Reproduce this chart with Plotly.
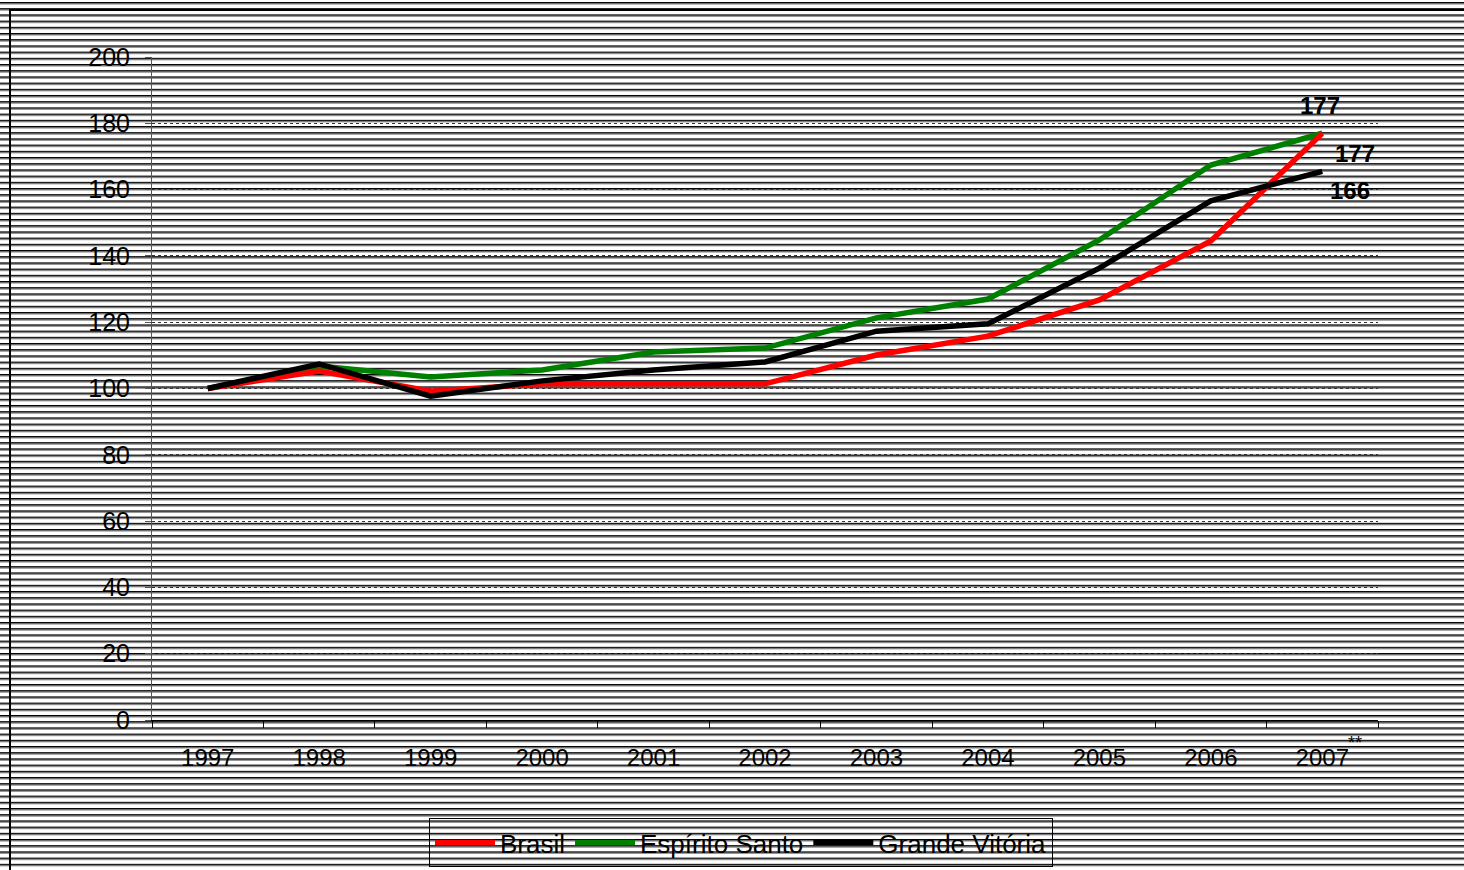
import base64
import plotly.graph_objects as go

years = ["1997", "1998", "1999", "2000", "2001", "2002", "2003", "2004", "2005", "2006", "2007"]
brasil = [100, 105.3, 99.2, 101.4, 101.4, 101.4, 110.1, 115.8, 126.7, 144.5, 177]
espirito_santo = [100, 106.8, 103.5, 105.6, 111, 112.2, 121.3, 127, 144.8, 167.4, 177]
grande_vitoria = [100, 107.4, 97.7, 102.3, 105.6, 108, 117.3, 119.5, 136.3, 156.6, 165.5]
end_labels = ["177", "177", "166"]

W, H = 1464, 870
L, R, T, B = 152, 86, 57, 150
PW, PH = W - L - R, H - T - B

FONT = "Liberation Sans, Arial, sans-serif"

svg = (
    f'<svg xmlns="http://www.w3.org/2000/svg" width="{W}" height="{H}" viewBox="0 0 {W} {H}">'
    '<defs><pattern id="p" x="0" y="2" width="8" height="6.2" patternUnits="userSpaceOnUse">'
    '<rect width="8" height="6.2" fill="#ffffff"/>'
    '<rect y="0" width="8" height="1.5" fill="#000000"/>'
    '<rect y="1.5" width="8" height="1.1" fill="#999999"/>'
    '</pattern></defs>'
    f'<rect width="{W}" height="{H}" fill="url(#p)"/></svg>'
)
src = "data:image/svg+xml;base64," + base64.b64encode(svg.encode()).decode()

fig = go.Figure()
fig.add_trace(go.Scatter(x=years, y=espirito_santo, name="Espírito Santo", mode="lines",
                         line=dict(color="#008000", width=5.5), legendrank=2))
fig.add_trace(go.Scatter(x=years, y=brasil, name="Brasil", mode="lines",
                         line=dict(color="#ff0000", width=5.5), legendrank=1))
fig.add_trace(go.Scatter(x=years, y=grande_vitoria, name="Grande Vitória", mode="lines",
                         line=dict(color="#000000", width=5.5), legendrank=3))

last = len(years) - 1
lab_font = dict(size=24, color="black", family=FONT)
fig.add_annotation(x=last, y=espirito_santo[-1], xref="x", yref="y", text=f"<b>{end_labels[1]}</b>",
                   showarrow=False, xshift=-2, yshift=28, font=lab_font)
fig.add_annotation(x=last, y=brasil[-1], xref="x", yref="y", text=f"<b>{end_labels[0]}</b>",
                   showarrow=False, xshift=33, yshift=-20, font=lab_font)
fig.add_annotation(x=last, y=grande_vitoria[-1], xref="x", yref="y", text=f"<b>{end_labels[2]}</b>",
                   showarrow=False, xshift=28, yshift=-19, font=lab_font)
fig.add_annotation(x=(1355 - L) / PW, y=(720 - 743) / PH, xref="paper", yref="paper", text="**",
                   showarrow=False, xanchor="center", yanchor="middle",
                   font=dict(size=18, color="black", family=FONT))

fig.add_layout_image(dict(source=src, xref="paper", yref="paper",
                          x=-L / PW, y=1 + T / PH, sizex=W / PW, sizey=H / PH,
                          xanchor="left", yanchor="top", sizing="stretch", layer="below"))

# outer frame
fig.add_shape(type="rect", xref="paper", yref="paper",
              x0=(10 - L) / PW, x1=(W + 10 - L) / PW,
              y0=(720 - (H + 10)) / PH, y1=(720 - 10) / PH,
              line=dict(color="black", width=2), fillcolor="rgba(0,0,0,0)", layer="below")

fig.update_xaxes(type="category", range=[-0.5, 10.5], tickson="boundaries",
                 ticks="outside", ticklen=7, tickcolor="black", tickwidth=1,
                 showline=True, linecolor="black", linewidth=1, showgrid=False,
                 tickfont=dict(size=24, color="black", family=FONT), ticklabelstandoff=16)
fig.update_yaxes(range=[0, 200], dtick=20, ticks="outside", ticklen=6, tickcolor="#555555",
                 showline=True, linecolor="#555555", linewidth=1,
                 showgrid=True, gridcolor="#333333", griddash="dot", gridwidth=1,
                 zeroline=False, tickfont=dict(size=25, color="black", family=FONT),
                 ticklabelstandoff=10)

fig.update_layout(
    width=W, height=H,
    margin=dict(l=L, r=R, t=T, b=B, autoexpand=False),
    paper_bgcolor="white", plot_bgcolor="rgba(0,0,0,0)",
    font=dict(family=FONT, size=24, color="black"),
    showlegend=True,
    legend=dict(orientation="h", x=(429 - L) / PW, y=(720 - 818) / PH,
                xanchor="left", yanchor="top", bgcolor="rgba(0,0,0,0)",
                bordercolor="black", borderwidth=1, itemwidth=60,
                font=dict(size=26, color="black", family=FONT), traceorder="normal"),
)

fig.write_html("out.html", post_script="document.body.style.margin='0';",
               config={"displayModeBar": False})
